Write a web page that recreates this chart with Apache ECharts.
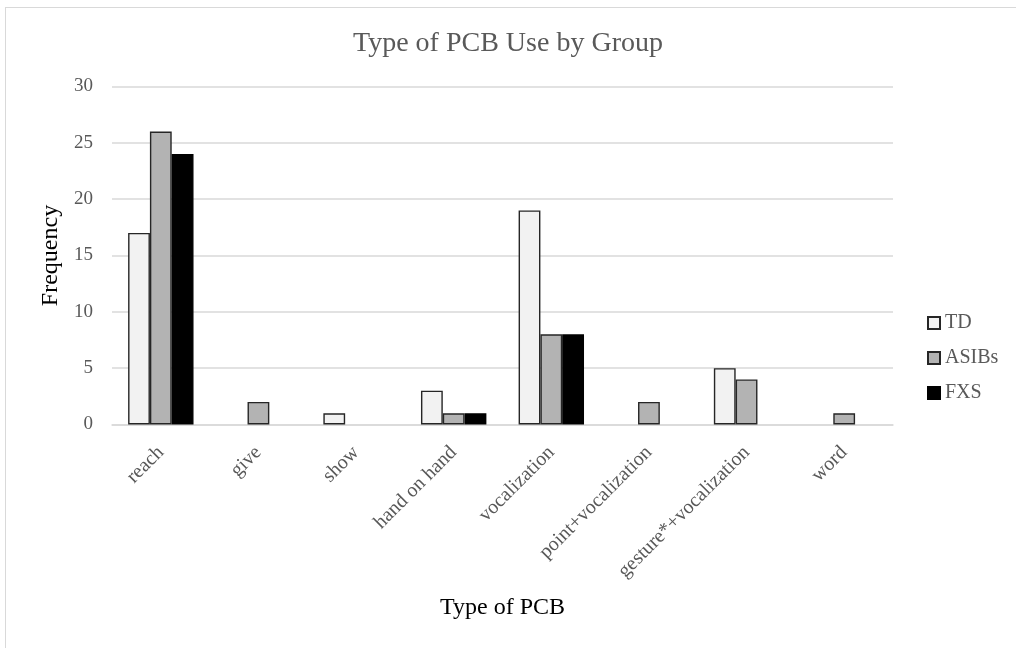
<!DOCTYPE html>
<html>
<head>
<meta charset="utf-8">
<script src="https://cdn.jsdelivr.net/npm/echarts@6/dist/echarts.min.js"></script>
<style>
  html, body { margin: 0; padding: 0; background: #fff; }
  #frame { position: absolute; left: 5px; top: 7px; width: 1020px; height: 660px; border: 1px solid #d9d9d9; box-sizing: border-box; }
  #chart { position: absolute; left: 0; top: 0; width: 1016px; height: 648px; }
</style>
</head>
<body>
<div id="frame"></div>
<div id="chart"></div>
<script>
// PCB types and counts per group
const categories = ['reach', 'give', 'show', 'hand on hand', 'vocalization', 'point+vocalization', 'gesture*+vocalization', 'word'];
const tdValues    = [17, 0, 1, 3, 19, 0, 5, 0];
const asibsValues = [26, 2, 0, 1, 8, 2, 4, 1];
const fxsValues   = [24, 0, 0, 1, 8, 0, 0, 0];
const groupNames  = ['TD', 'ASIBs', 'FXS'];

const serif = '"Liberation Serif", "Times New Roman", serif';
const chart = echarts.init(document.getElementById('chart'), null, { renderer: 'canvas' });

// Zero counts get no outline so they leave no sliver on the axis
function toItems(values) {
  return values.map(v => v === 0 ? { value: v, itemStyle: { borderWidth: 0, opacity: 0 } } : v);
}

function barSeries(name, values, fill, border) {
  return {
    name: name,
    type: 'bar',
    data: toItems(values),
    barGap: '0%',
    barCategoryGap: '33%',
    itemStyle: { color: fill, borderColor: border, borderWidth: 1.4 }
  };
}

chart.setOption({
  animation: false,
  title: {
    text: 'Type of PCB Use by Group',
    left: 'center',
    top: 25,
    padding: [5, 5, 5, 23],
    textStyle: { fontFamily: serif, fontSize: 28, fontWeight: 'normal', color: '#595959' }
  },
  legend: {
    orient: 'vertical',
    left: 922,
    top: 308,
    icon: 'rect',
    itemWidth: 12,
    itemHeight: 12,
    itemGap: 15,
    data: groupNames,
    textStyle: { fontFamily: serif, fontSize: 20, color: '#595959' }
  },
  grid: { left: 112, right: 123, top: 86.5, bottom: 223.5, containLabel: false },
  xAxis: {
    type: 'category',
    data: categories,
    name: 'Type of PCB',
    nameLocation: 'middle',
    nameGap: 171,
    nameTextStyle: { fontFamily: serif, fontSize: 24, color: '#000' },
    axisLine: { lineStyle: { color: '#d9d9d9', width: 1.5 } },
    axisTick: { show: false },
    axisLabel: {
      rotate: 45,
      margin: 25,
      interval: 0,
      fontFamily: serif,
      fontSize: 20,
      color: '#595959'
    }
  },
  yAxis: {
    type: 'value',
    min: 0,
    max: 30,
    interval: 5,
    name: 'Frequency',
    nameLocation: 'middle',
    nameGap: 45,
    nameTextStyle: { fontFamily: serif, fontSize: 24, color: '#000' },
    axisLine: { show: false },
    axisTick: { show: false },
    axisLabel: { margin: 19, fontFamily: serif, fontSize: 19, color: '#595959' },
    splitLine: { lineStyle: { color: '#d9d9d9', width: 1.5 } }
  },
  series: [
    barSeries('TD', tdValues, '#f2f2f2', '#262626'),
    barSeries('ASIBs', asibsValues, '#b3b3b3', '#262626'),
    barSeries('FXS', fxsValues, '#000000', '#000000')
  ]
});
</script>
</body>
</html>
